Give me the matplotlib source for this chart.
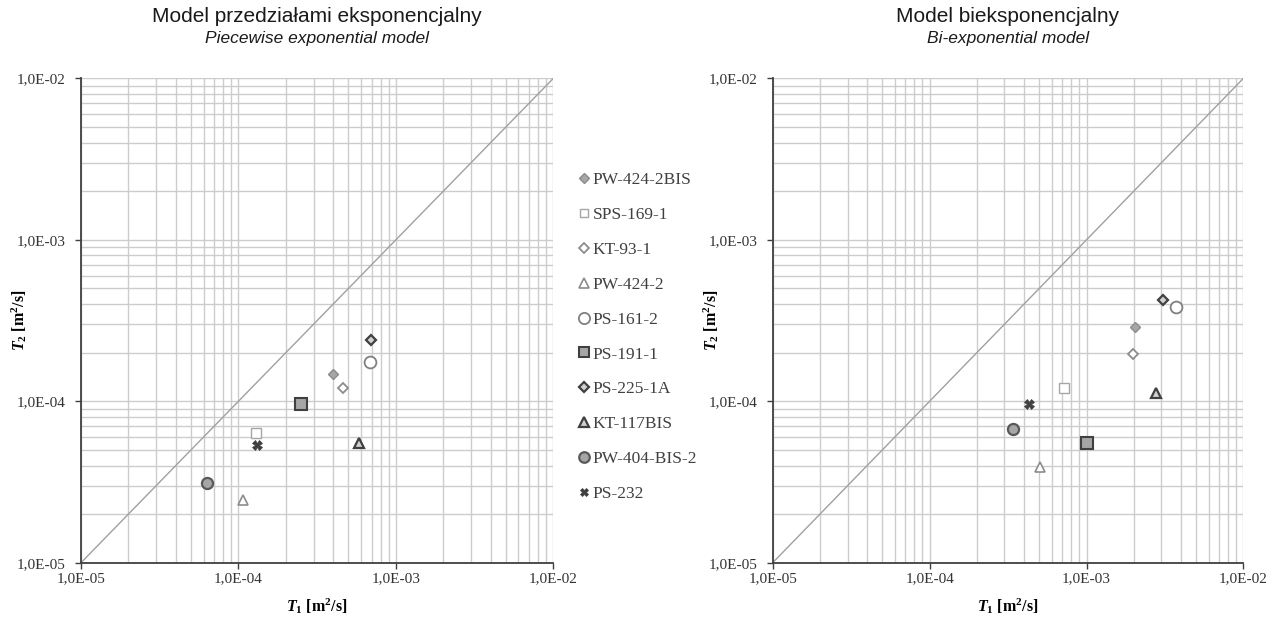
import matplotlib
matplotlib.use("Agg")
import matplotlib.pyplot as plt
from matplotlib.ticker import LogLocator, FixedLocator, NullFormatter

plt.rcParams['mathtext.fontset'] = 'custom'
plt.rcParams['mathtext.it'] = 'Liberation Serif:italic:bold'
plt.rcParams['mathtext.rm'] = 'Liberation Serif:bold'
plt.rcParams['mathtext.bf'] = 'Liberation Serif:bold'

wells = ["PW-424-2BIS", "SPS-169-1", "KT-93-1", "PW-424-2", "PS-161-2",
         "PS-191-1", "PS-225-1A", "KT-117BIS", "PW-404-BIS-2", "PS-232"]

# Piecewise exponential model
t1_piece = [4.0e-4, 1.29e-4, 4.6e-4, 1.07e-4, 6.8e-4, 2.5e-4, 6.9e-4, 5.8e-4, 6.3e-5, 1.32e-4]
t2_piece = [1.47e-4, 6.4e-5, 1.21e-4, 2.43e-5, 1.75e-4, 9.6e-5, 2.4e-4, 5.5e-5, 3.1e-5, 5.35e-5]

# Bi-exponential model
t1_biexp = [2.03e-3, 7.2e-4, 1.97e-3, 5.05e-4, 3.74e-3, 1.0e-3, 3.08e-3, 2.76e-3, 3.41e-4, 4.28e-4]
t2_biexp = [2.9e-4, 1.2e-4, 1.95e-4, 3.9e-5, 3.85e-4, 5.5e-5, 4.24e-4, 1.12e-4, 6.7e-5, 9.6e-5]

tick_vals = [1e-5, 1e-4, 1e-3, 1e-2]
tick_labels = ["1,0E-05", "1,0E-04", "1,0E-03", "1,0E-02"]

titles_pl = ["Model przedziałami eksponencjalny", "Model biekspo\u00adnencjalny".replace("\u00ad", "")]
titles_en = ["Piecewise exponential model", "Bi-exponential model"]

styles = [
    dict(marker='D', ms=5.5, mfc='#a6a6a6', mec='#8c8c8c', mew=1.0),
    dict(marker='s', ms=6.5, mfc='white', mec='#a6a6a6', mew=1.0),
    dict(marker='D', ms=5.5, mfc='white', mec='#8c8c8c', mew=1.3),
    dict(marker='^', ms=7, mfc='white', mec='#8c8c8c', mew=1.2),
    dict(marker='o', ms=8.5, mfc='white', mec='#808080', mew=1.3),
    dict(marker='s', ms=8, mfc='#a6a6a6', mec='#404040', mew=1.5),
    dict(marker='D', ms=5.5, mfc='#d0d0d0', mec='#404040', mew=1.6),
    dict(marker='^', ms=7, mfc='#d0d0d0', mec='#404040', mew=1.6),
    dict(marker='o', ms=8, mfc='#a6a6a6', mec='#595959', mew=1.6),
    dict(marker='X', ms=6.5, mfc='#404040', mec='#404040', mew=0.5),
]

fig = plt.figure(figsize=(12.72, 6.17), dpi=100)
ax1 = fig.add_axes([0.0637, 0.088, 0.3713, 0.785])
ax2 = fig.add_axes([0.6075, 0.088, 0.370, 0.785])

serif = 'Liberation Serif'

def setup(ax, t1, t2):
    ax.set_xscale('log')
    ax.set_yscale('log')
    ax.set_xlim(1e-5, 1e-2)
    ax.set_ylim(1e-5, 1e-2)
    ax.xaxis.set_major_locator(FixedLocator(tick_vals))
    ax.yaxis.set_major_locator(FixedLocator(tick_vals))
    ax.set_xticklabels(tick_labels, fontfamily=serif, fontsize=11, color='#333333')
    ax.set_yticklabels(tick_labels, fontfamily=serif, fontsize=11, color='#333333')
    ax.xaxis.set_minor_locator(LogLocator(base=10, subs=range(2, 10)))
    ax.yaxis.set_minor_locator(LogLocator(base=10, subs=range(2, 10)))
    ax.xaxis.set_minor_formatter(NullFormatter())
    ax.yaxis.set_minor_formatter(NullFormatter())
    ax.tick_params(which='minor', length=0)
    ax.tick_params(axis='x', which='major', length=4, direction='out', color='#404040', width=1, pad=3)
    ax.tick_params(axis='y', which='major', length=4, direction='out', color='#404040', width=1, pad=7)
    ax.grid(True, which='both', color='#cccccc', lw=1.0)
    ax.set_axisbelow(True)
    for s in ['top', 'right']:
        ax.spines[s].set_visible(False)
    for s in ['left', 'bottom']:
        ax.spines[s].set_color('#404040')
        ax.spines[s].set_linewidth(1.3)
    ax.plot([1e-5, 1e-2], [1e-5, 1e-2], color='#a0a0a0', lw=1.0, zorder=2)
    handles = []
    for name, x, y, st in zip(wells, t1, t2, styles):
        h, = ax.plot([x], [y], ls='none', label=name, zorder=3, **st)
        handles.append(h)
    ax.set_xlabel(r'$T_1$ [m$^2$/s]', fontfamily=serif, fontweight='bold', fontsize=11.5)
    ax.set_ylabel(r'$T_2$ [m$^2$/s]', fontfamily=serif, fontweight='bold', fontsize=11.5)
    ax.xaxis.set_label_coords(0.5, -0.07)
    ax.yaxis.set_label_coords(-0.11, 0.5)
    return handles

handles = setup(ax1, t1_piece, t2_piece)
setup(ax2, t1_biexp, t2_biexp)

for ax, tp, te in zip([ax1, ax2], titles_pl, titles_en):
    pos = ax.get_position()
    cx = pos.x0 + pos.width / 2
    fig.text(cx, 1 - 17 / 617, tp, ha='center', va='center', fontfamily='Liberation Sans', fontsize=15, color='#1a1a1a')
    fig.text(cx, 1 - 38 / 617, te, ha='center', va='center', fontfamily='Liberation Sans', fontsize=12.5, style='italic', color='#1a1a1a')

leg = fig.legend(handles=handles, loc='center left', bbox_to_anchor=(563 / 1272, 1 - 337 / 617),
                 frameon=False, prop={'family': serif, 'size': 12.5}, labelspacing=1.08,
                 handlelength=0.6, handletextpad=0.2, markerscale=0.95)
for t in leg.get_texts():
    t.set_color('#404040')

fig.savefig('out.png', dpi=100)
